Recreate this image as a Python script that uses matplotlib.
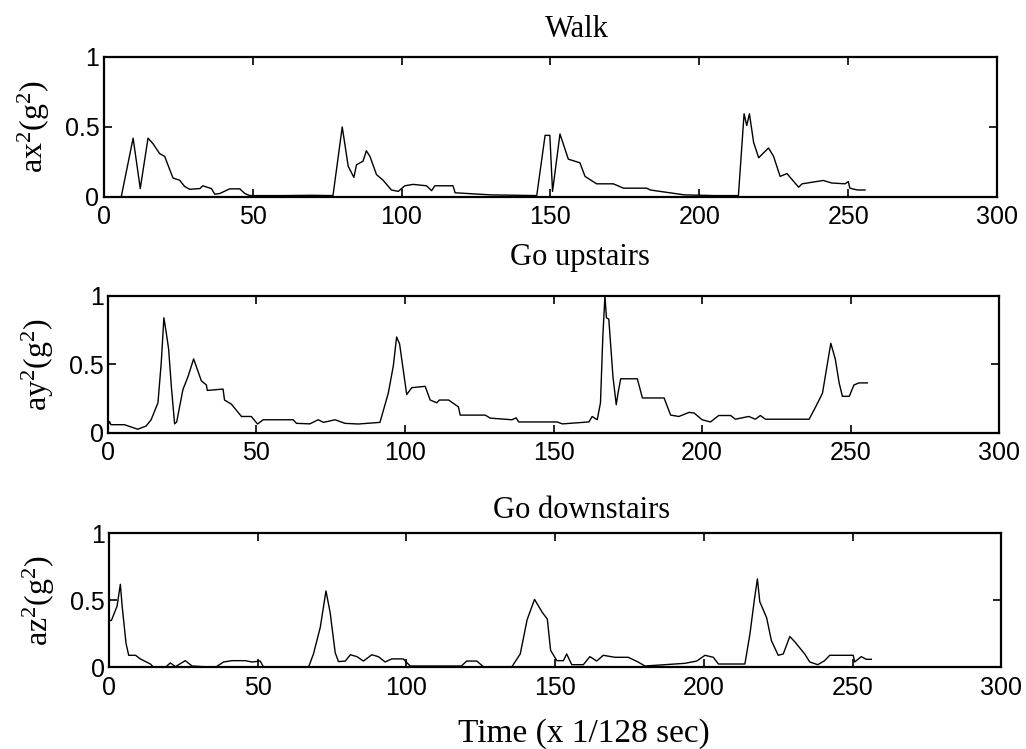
import matplotlib
matplotlib.use("Agg")
import matplotlib.pyplot as plt
from matplotlib import font_manager

# ---------------- data ----------------
walk_t = [0, 5.9, 9.9, 12.3, 14.9, 16.6, 18.8, 20.5, 22.2, 23.3, 25.5, 27.2, 28.9, 32.3, 33.3,
          36.2, 37.3, 39, 42.3, 45.7, 47.4, 49, 60, 70, 77, 80.1, 82.1, 84, 84.9, 87.1, 88.2,
          89.4, 91.6, 93.8, 96.6, 98.9, 101.1, 103.9, 108.4, 110.1, 111.2, 117.3, 118, 130,
          145.4, 148.2, 149.8, 150.7, 153.2, 156, 159.9, 161.6, 165.5, 171.1, 174.5, 182.3,
          183.5, 195, 205, 213.1, 215, 215.9, 216.8, 218.2, 219.9, 223.2, 224.9, 227.1, 229.4,
          233.3, 234.5, 241.6, 244.4, 248.9, 250, 250.5, 253, 255.6]
walk_v = [0.0, 0.0, 0.42, 0.06, 0.42, 0.38, 0.31, 0.29, 0.195, 0.135, 0.12, 0.075, 0.055, 0.06,
          0.08, 0.06, 0.02, 0.025, 0.058, 0.058, 0.025, 0.01, 0.01, 0.012, 0.01, 0.50, 0.22,
          0.14, 0.23, 0.256, 0.33, 0.29, 0.16, 0.12, 0.05, 0.04, 0.08, 0.09, 0.08, 0.045,
          0.08, 0.08, 0.03, 0.015, 0.01, 0.44, 0.44, 0.04, 0.45, 0.27, 0.244, 0.147, 0.094,
          0.094, 0.063, 0.063, 0.05, 0.015, 0.01, 0.01, 0.594, 0.51, 0.594, 0.39, 0.28, 0.35,
          0.29, 0.147, 0.167, 0.07, 0.094, 0.118, 0.10, 0.094, 0.11, 0.063, 0.05, 0.05]

up_t = [0, 0.6, 1.1, 5.6, 10.1, 12.9, 14.6, 16.9, 18, 18.9, 19.7, 20.5, 21.4, 22.5, 23.2, 25.3,
        27, 28.9, 31.5, 33.2, 33.5, 38.8, 39.3, 41.6, 45, 48.3, 50.4, 52.3, 62.4, 63.5, 68,
        70.8, 72.6, 76.5, 79.8, 84.3, 91.6, 94.4, 96.1, 97.2, 98.2, 100.6, 102.3, 106.8,
        108.5, 110.7, 111.6, 114.7, 118, 118.6, 127, 128.7, 136, 137.4, 138.3, 151.2, 153,
        161.9, 163, 164.7, 165.8, 166.6, 167.3, 167.8, 168.6, 170, 171.1, 171.7, 172.6,
        178.2, 179.9, 187.2, 189.4, 192.2, 195.6, 197.3, 200, 202.8, 205.6, 209.6, 211.2,
        215.7, 217.9, 219.6, 221.3, 236, 238.2, 240.5, 241.8, 243.3, 244.8, 246.1, 247.2,
        249.5, 251.1, 252.8, 255.6]
up_v = [0.05, 0.083, 0.06, 0.06, 0.027, 0.05, 0.096, 0.22, 0.51, 0.84, 0.73, 0.61, 0.34, 0.066,
        0.08, 0.316, 0.41, 0.54, 0.38, 0.35, 0.31, 0.32, 0.24, 0.21, 0.12, 0.12, 0.065,
        0.096, 0.096, 0.07, 0.066, 0.096, 0.077, 0.096, 0.07, 0.065, 0.077, 0.29, 0.49,
        0.70, 0.65, 0.28, 0.33, 0.34, 0.24, 0.22, 0.24, 0.24, 0.19, 0.13, 0.13, 0.108,
        0.096, 0.11, 0.08, 0.08, 0.066, 0.08, 0.12, 0.096, 0.22, 0.71, 1.0, 0.84, 0.83,
        0.41, 0.206, 0.29, 0.395, 0.395, 0.255, 0.255, 0.13, 0.12, 0.15, 0.145, 0.096,
        0.08, 0.127, 0.127, 0.10, 0.12, 0.10, 0.127, 0.10, 0.10, 0.19, 0.29, 0.46, 0.654,
        0.54, 0.365, 0.267, 0.267, 0.35, 0.365, 0.365]

down_t = [0, 0.9, 2.8, 3.9, 4.5, 5.8, 6.7, 9.0, 10.6, 14, 15.1, 19, 20.7, 22.4, 25.7, 28, 35.8,
          38.6, 41.4, 45.9, 48.1, 50.9, 52, 67.2, 68.8, 71.1, 73, 74.4, 76.1, 77.2, 79.5,
          81.2, 83.4, 85.6, 88.4, 90.6, 92.9, 95.1, 99, 101.3, 118.5, 120.3, 123.7, 125.9,
          135.5, 138.3, 140.6, 143.1, 145.7, 147.4, 148.5, 150.6, 152.8, 153.9, 155.6,
          159.5, 161.7, 164, 166.2, 170.1, 174.6, 177.9, 180.2, 193.6, 197.6, 200.4, 203.2,
          204.9, 213.8, 215.5, 217, 218, 218.8, 221.1, 222.7, 225, 226.7, 228.9, 230.6,
          233.9, 235.6, 238.3, 240.6, 242.3, 250.2, 250.7, 252.9, 254.6, 256.3]
down_v = [0.35, 0.35, 0.457, 0.62, 0.457, 0.18, 0.09, 0.09, 0.063, 0.025, 0.0, 0.0, 0.033,
          0.005, 0.05, 0.01, 0.0, 0.04, 0.05, 0.05, 0.04, 0.047, 0.003, 0.005, 0.10, 0.30,
          0.57, 0.41, 0.11, 0.043, 0.047, 0.094, 0.08, 0.047, 0.094, 0.08, 0.04, 0.063,
          0.063, 0.01, 0.01, 0.047, 0.047, 0.005, 0.005, 0.10, 0.355, 0.507, 0.41, 0.36,
          0.127, 0.05, 0.05, 0.10, 0.02, 0.02, 0.08, 0.047, 0.09, 0.075, 0.075, 0.04, 0.01,
          0.03, 0.047, 0.09, 0.075, 0.025, 0.025, 0.25, 0.507, 0.66, 0.49, 0.37, 0.20, 0.09,
          0.10, 0.23, 0.19, 0.10, 0.04, 0.02, 0.05, 0.09, 0.09, 0.04, 0.08, 0.06, 0.06]

titles = ["Walk", "Go upstairs", "Go downstairs"]
ylabels = [r"ax$^2$(g$^2$)", r"ay$^2$(g$^2$)", r"az$^2$(g$^2$)"]
xticks = [0, 50, 100, 150, 200, 250, 300]
yticks = [0, 0.5, 1]
ytick_labels = ["0", "0.5", "1"]
xlabel = "Time (x 1/128 sec)"

# ---------------- style ----------------
names = {f.name for f in font_manager.fontManager.ttflist}
sans = "Liberation Sans Narrow" if "Liberation Sans Narrow" in names else "Liberation Sans"
serif = "Liberation Serif"
plt.rcParams["mathtext.fontset"] = "custom"
plt.rcParams["mathtext.rm"] = serif
plt.rcParams["mathtext.it"] = serif
plt.rcParams["mathtext.default"] = "regular"

fig = plt.figure(figsize=(10.26, 7.49), dpi=100)
boxes = [(0.101, 0.737, 0.871, 0.187),
         (0.105, 0.422, 0.869, 0.183),
         (0.106, 0.109, 0.870, 0.179)]
title_pads = [14, 22, 11]
series = [(walk_t, walk_v), (up_t, up_v), (down_t, down_v)]

for i, (box, (t, v)) in enumerate(zip(boxes, series)):
    ax = fig.add_axes(box)
    ax.plot(t, v, color="black", lw=1.0)
    ax.set_xlim(0, 300)
    ax.set_ylim(0, 1)
    ax.set_xticks(xticks)
    ax.set_xticklabels([str(x) for x in xticks], fontfamily=sans, fontsize=18)
    ax.set_yticks(yticks)
    ax.set_yticklabels(ytick_labels, fontfamily=sans, fontsize=18)
    ax.tick_params(direction="in", top=True, right=True, length=6, width=1.2)
    ax.tick_params(axis="x", pad=6)
    ax.tick_params(axis="y", pad=3)
    for s in ax.spines.values():
        s.set_linewidth(1.6)
    ax.set_title(titles[i], fontfamily=serif, fontsize=22, pad=title_pads[i], x=0.53)
    ax.set_ylabel(ylabels[i], fontfamily=serif, fontsize=23)
    ax.yaxis.set_label_coords(-0.058, 0.5)

fig.text(0.569, 0.021, xlabel, fontfamily=serif, fontsize=24, ha="center", va="center")
fig.savefig("out.png", dpi=100)
